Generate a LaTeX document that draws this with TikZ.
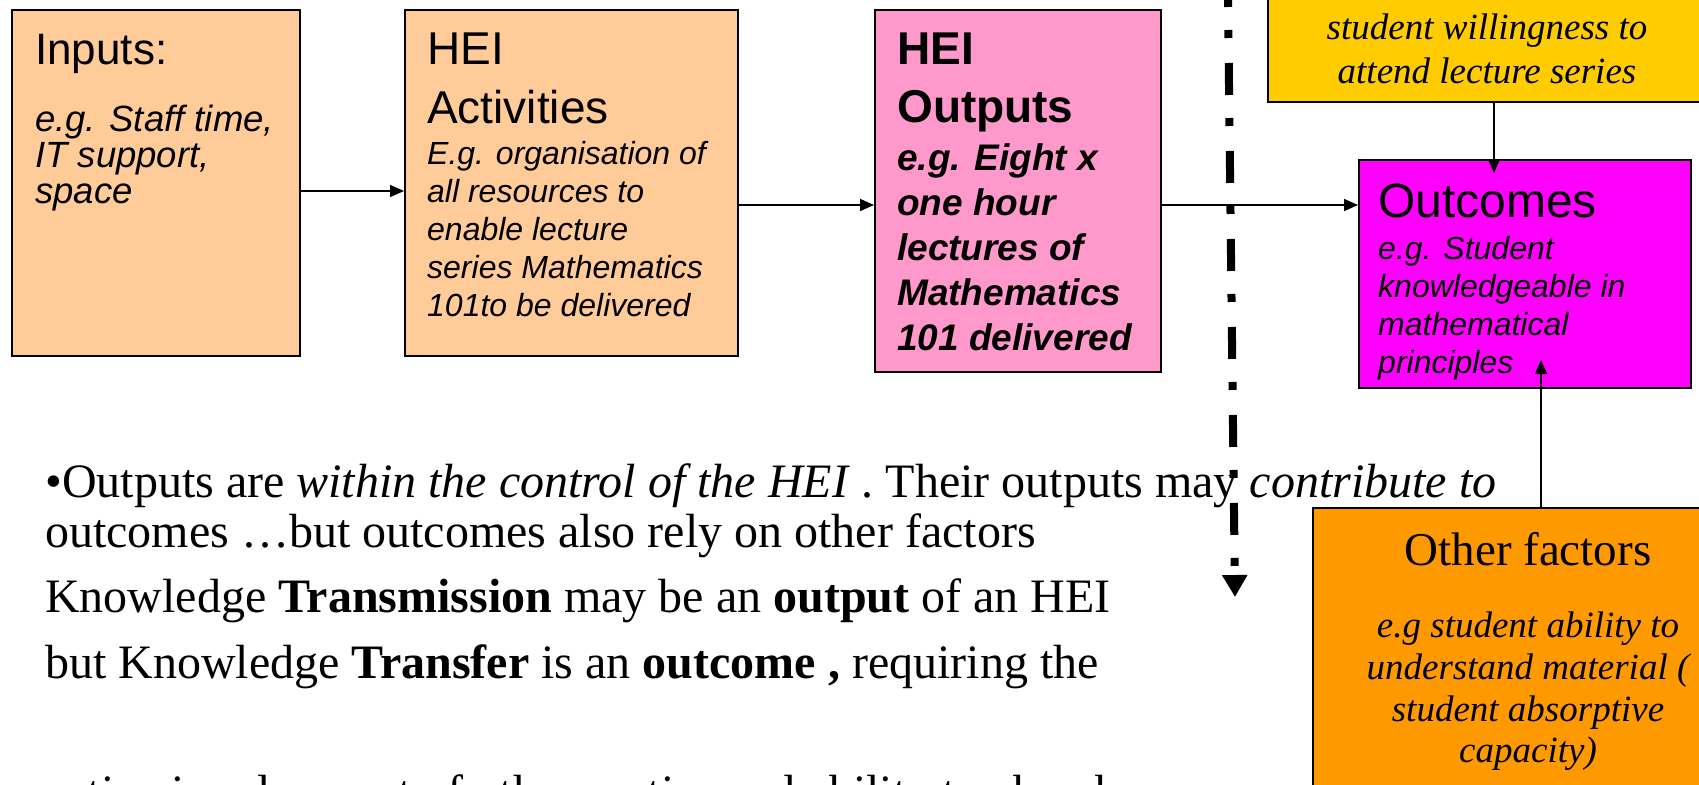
\documentclass[tikz,border=0pt]{standalone}
\usepackage{fontspec}
\setmainfont{Liberation Serif}
\setsansfont{Liberation Sans}
\usetikzlibrary{positioning,arrows.meta,calc}

\definecolor{peach}{HTML}{FFCC99}
\definecolor{pinkbox}{HTML}{FF99CC}
\definecolor{gold}{HTML}{FFCC00}
\definecolor{magentabox}{HTML}{FF00FF}
\definecolor{orangebox}{HTML}{FF9900}

\newcommand{\fs}[1]{\fontsize{#1}{#1}\selectfont}

\begin{document}
\begin{tikzpicture}[x=1pt,y=-1pt,every node/.style={inner sep=0pt}]
\tikzstyle{box}=[draw,line width=2pt,anchor=north west]
\tikzstyle{head}=[anchor=base west,font=\sffamily\fs{46}]
\tikzstyle{body}=[anchor=base west,font=\sffamily\itshape\fs{36.5}]
\tikzstyle{small}=[anchor=base west,font=\sffamily\itshape\fs{32}]
\tikzstyle{bhead}=[anchor=base west,font=\sffamily\bfseries\fs{46}]
\tikzstyle{bbody}=[anchor=base west,font=\sffamily\bfseries\itshape\fs{37}]
\tikzstyle{serif}=[anchor=base,font=\itshape\fs{37}]
\tikzstyle{para}=[anchor=base west,font=\fs{48}]
\tikzstyle{arrow}=[draw,line width=1.6pt,-{Triangle[length=14pt,width=12pt]}]
\tikzstyle{divider}=[draw,line width=8pt,dash pattern=on 32pt off 23pt on 8pt off 25pt,dash phase=25pt,-{Triangle[length=22pt,width=24pt]}]

\useasboundingbox (0,0) rectangle (1699,784);
\clip (0,0) rectangle (1699,784);

% boxes
\node[box,fill=peach,minimum width=288pt,minimum height=346pt](inputs) at (11,9){};
\node[box,fill=peach,minimum width=333pt,minimum height=346pt](activities) at (404,9){};
\node[box,fill=pinkbox,minimum width=286pt,minimum height=362pt](outputs) at (874,9){};
\node[box,fill=gold,minimum width=440pt,minimum height=141pt](willing) at (1267,-40){};
\node[box,fill=magentabox,minimum width=332pt,minimum height=228pt](outcomes) at (1358,159){};
\node[box,fill=orangebox,minimum width=432pt,minimum height=320pt](other) at (1312,507){};

% inputs
\node[head,font=\sffamily\fs{44}](i0) at (35,65){Inputs:};
\node[body](i1) at (35,131){e.g. Staff time,};
\node[body,below=36pt of i1.base west,anchor=base west](i2){IT support,};
\node[body,below=36pt of i2.base west,anchor=base west](i3){space};

% activities
\node[head](a0) at (427,65){HEI};
\node[head,below=58pt of a0.base west,anchor=base west](a1){Activities};
\node[small](a2) at (427,164){E.g. organisation of};
\node[small,below=38pt of a2.base west,anchor=base west](a3){all resources to};
\node[small,below=38pt of a3.base west,anchor=base west](a4){enable lecture};
\node[small,below=38pt of a4.base west,anchor=base west](a5){series Mathematics};
\node[small,below=38pt of a5.base west,anchor=base west](a6){101to be delivered};

% outputs
\node[bhead](o0) at (897,64){HEI};
\node[bhead,below=58pt of o0.base west,anchor=base west](o1){Outputs};
\node[bbody](o2) at (897,170){e.g. Eight x};
\node[bbody,below=45pt of o2.base west,anchor=base west](o3){one hour};
\node[bbody,below=45pt of o3.base west,anchor=base west](o4){lectures of};
\node[bbody,below=45pt of o4.base west,anchor=base west](o5){Mathematics};
\node[bbody,below=45pt of o5.base west,anchor=base west](o6){101 delivered};

% outcomes
\node[head,font=\sffamily\fs{48}](u0) at (1378,217){Outcomes};
\node[small](u1) at (1378,259){e.g. Student};
\node[small,below=38pt of u1.base west,anchor=base west](u2){knowledgeable in};
\node[small,below=38pt of u2.base west,anchor=base west](u3){mathematical};
\node[small,below=38pt of u3.base west,anchor=base west](u4){principles};

% other influences
\node[serif](w1) at (1487,40){student willingness to};
\node[serif,below=43pt of w1.base,anchor=base](w2){attend lecture series};

\node[serif,font=\fs{47}](f0) at (1528,565){Other factors};
\node[serif](f1) at (1528,637){e.g student ability to};
\node[serif,below=42pt of f1.base,anchor=base](f2){understand material (};
\node[serif,below=42pt of f2.base,anchor=base](f3){student absorptive};
\node[serif,below=41pt of f3.base,anchor=base](f4){capacity)};

% text below
\node[para](p1) at (45,497){•Outputs are \textit{within the control of the HEI} . Their outputs may \textit{contribute to}};
\node[para,below=50pt of p1.base west,anchor=base west](p2){outcomes …but outcomes also rely on other factors};
\node[para](p3) at (45,612){Knowledge \textbf{Transmission} may be an \textbf{output} of an HEI};
\node[para,below=66pt of p3.base west,anchor=base west](p4){but Knowledge \textbf{Transfer} is an \textbf{outcome ,} requiring the};
\node[para,below=130pt of p4.base west,anchor=base west](p5){active involvement of other parties and ability to absorb};

% connectors
\coordinate(wtip) at ($(willing.south |- outcomes.north)+(6,14)$);
\coordinate(otip) at ($(other.north |- outcomes.south)+(12,-29)$);
\path[arrow]([yshift=-8pt]inputs.east)--([yshift=-8pt]activities.west);
\path[arrow]([yshift=-22pt]activities.east)--([yshift=-14pt]outputs.west);
\path[arrow]([yshift=-14pt]outputs.east)--([yshift=69pt]outcomes.west);
\path[arrow]([xshift=6pt]willing.south)--(wtip);
\path[arrow]([xshift=12pt]other.north)--(otip);

\coordinate(divtop) at (1228,0);
\coordinate(divend) at (1235,597);
\path[divider](divtop)--(divend);
\end{tikzpicture}
\end{document}
